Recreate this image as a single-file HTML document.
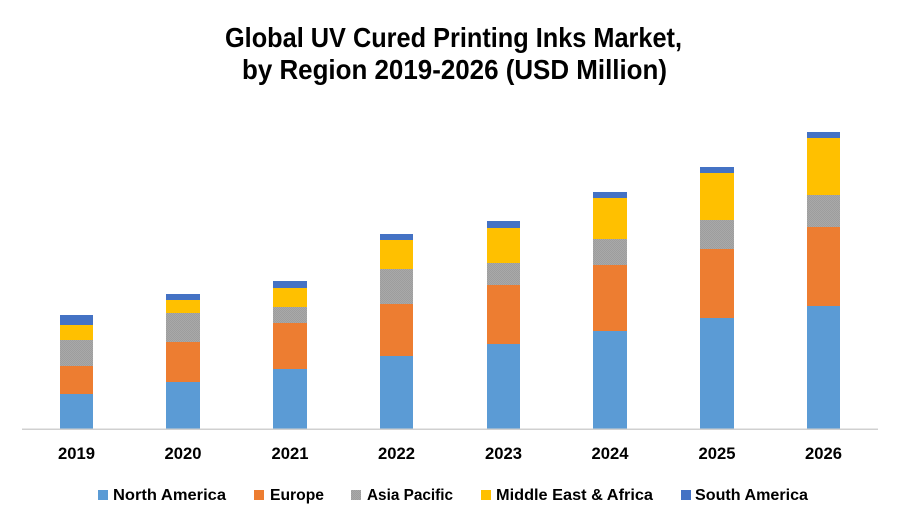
<!DOCTYPE html>
<html>
<head>
<meta charset="utf-8">
<style>
  html, body { margin: 0; padding: 0; background: #ffffff; }
  svg { display: block; }
  text { font-family: "Liberation Sans", Arial, sans-serif; font-weight: bold; fill: #000; }
</style>
</head>
<body>
<svg width="900" height="525" viewBox="0 0 900 525" xmlns="http://www.w3.org/2000/svg">
  <defs>
    <pattern id="gp" width="2" height="2" patternUnits="userSpaceOnUse">
      <rect width="2" height="2" fill="#a9a9a9"/>
      <rect width="1" height="1" fill="#9d9d9d"/>
      <rect x="1" y="1" width="1" height="1" fill="#9d9d9d"/>
    </pattern>
  </defs>
  <rect width="900" height="525" fill="#ffffff"/>

  <!-- Title -->
  <text x="453.5" y="47" font-size="28" text-anchor="middle" textLength="457" lengthAdjust="spacingAndGlyphs">Global UV Cured Printing Inks Market,</text>
  <text x="454.5" y="79" font-size="28" text-anchor="middle" textLength="425" lengthAdjust="spacingAndGlyphs">by Region 2019-2026 (USD Million)</text>

  <!-- Bars: NA, Europe, APAC, MEA, SA -->
  <!-- 2019 -->
  <g>
    <rect x="60" y="394" width="33" height="35" fill="#5b9bd5"/>
    <rect x="60" y="366" width="33" height="28" fill="#ed7d31"/>
    <rect x="60" y="340" width="33" height="26" fill="url(#gp)"/>
    <rect x="60" y="325" width="33" height="15" fill="#ffc000"/>
    <rect x="60" y="315" width="33" height="10" fill="#4472c4"/>
  </g>
  <!-- 2020 -->
  <g>
    <rect x="166" y="382" width="34" height="47" fill="#5b9bd5"/>
    <rect x="166" y="342" width="34" height="40" fill="#ed7d31"/>
    <rect x="166" y="313" width="34" height="29" fill="url(#gp)"/>
    <rect x="166" y="300" width="34" height="13" fill="#ffc000"/>
    <rect x="166" y="294" width="34" height="6" fill="#4472c4"/>
  </g>
  <!-- 2021 -->
  <g>
    <rect x="273" y="369" width="34" height="60" fill="#5b9bd5"/>
    <rect x="273" y="323" width="34" height="46" fill="#ed7d31"/>
    <rect x="273" y="307" width="34" height="16" fill="url(#gp)"/>
    <rect x="273" y="288" width="34" height="19" fill="#ffc000"/>
    <rect x="273" y="281" width="34" height="7" fill="#4472c4"/>
  </g>
  <!-- 2022 -->
  <g>
    <rect x="380" y="356" width="33" height="73" fill="#5b9bd5"/>
    <rect x="380" y="304" width="33" height="52" fill="#ed7d31"/>
    <rect x="380" y="269" width="33" height="35" fill="url(#gp)"/>
    <rect x="380" y="240" width="33" height="29" fill="#ffc000"/>
    <rect x="380" y="234" width="33" height="6" fill="#4472c4"/>
  </g>
  <!-- 2023 -->
  <g>
    <rect x="487" y="344" width="33" height="85" fill="#5b9bd5"/>
    <rect x="487" y="285" width="33" height="59" fill="#ed7d31"/>
    <rect x="487" y="263" width="33" height="22" fill="url(#gp)"/>
    <rect x="487" y="228" width="33" height="35" fill="#ffc000"/>
    <rect x="487" y="221" width="33" height="7" fill="#4472c4"/>
  </g>
  <!-- 2024 -->
  <g>
    <rect x="593" y="331" width="34" height="98" fill="#5b9bd5"/>
    <rect x="593" y="265" width="34" height="66" fill="#ed7d31"/>
    <rect x="593" y="239" width="34" height="26" fill="url(#gp)"/>
    <rect x="593" y="198" width="34" height="41" fill="#ffc000"/>
    <rect x="593" y="192" width="34" height="6" fill="#4472c4"/>
  </g>
  <!-- 2025 -->
  <g>
    <rect x="700" y="318" width="34" height="111" fill="#5b9bd5"/>
    <rect x="700" y="249" width="34" height="69" fill="#ed7d31"/>
    <rect x="700" y="220" width="34" height="29" fill="url(#gp)"/>
    <rect x="700" y="173" width="34" height="47" fill="#ffc000"/>
    <rect x="700" y="167" width="34" height="6" fill="#4472c4"/>
  </g>
  <!-- 2026 -->
  <g>
    <rect x="807" y="306" width="33" height="123" fill="#5b9bd5"/>
    <rect x="807" y="227" width="33" height="79" fill="#ed7d31"/>
    <rect x="807" y="195" width="33" height="32" fill="url(#gp)"/>
    <rect x="807" y="138" width="33" height="57" fill="#ffc000"/>
    <rect x="807" y="132" width="33" height="6" fill="#4472c4"/>
  </g>

  <!-- Axis line -->
  <rect x="22" y="428.5" width="856" height="1.5" fill="#d0d0d0"/>

  <!-- X labels -->
  <g font-size="17">
    <text x="76.5" y="459" text-anchor="middle" textLength="37" lengthAdjust="spacingAndGlyphs">2019</text>
    <text x="183" y="459" text-anchor="middle" textLength="37" lengthAdjust="spacingAndGlyphs">2020</text>
    <text x="290" y="459" text-anchor="middle" textLength="37" lengthAdjust="spacingAndGlyphs">2021</text>
    <text x="396.5" y="459" text-anchor="middle" textLength="37" lengthAdjust="spacingAndGlyphs">2022</text>
    <text x="503.5" y="459" text-anchor="middle" textLength="37" lengthAdjust="spacingAndGlyphs">2023</text>
    <text x="610" y="459" text-anchor="middle" textLength="37" lengthAdjust="spacingAndGlyphs">2024</text>
    <text x="717" y="459" text-anchor="middle" textLength="37" lengthAdjust="spacingAndGlyphs">2025</text>
    <text x="823.5" y="459" text-anchor="middle" textLength="37" lengthAdjust="spacingAndGlyphs">2026</text>
  </g>

  <!-- Legend -->
  <g font-size="16">
    <rect x="98" y="490" width="10" height="10" fill="#5b9bd5"/>
    <text x="113" y="500" textLength="113" lengthAdjust="spacingAndGlyphs">North America</text>
    <rect x="254" y="490" width="10" height="10" fill="#ed7d31"/>
    <text x="270" y="500" textLength="54" lengthAdjust="spacingAndGlyphs">Europe</text>
    <rect x="351" y="490" width="10" height="10" fill="url(#gp)"/>
    <text x="367" y="500" textLength="86" lengthAdjust="spacingAndGlyphs">Asia Pacific</text>
    <rect x="481" y="490" width="10" height="10" fill="#ffc000"/>
    <text x="496" y="500" textLength="157" lengthAdjust="spacingAndGlyphs">Middle East &amp; Africa</text>
    <rect x="681" y="490" width="10" height="10" fill="#4472c4"/>
    <text x="695" y="500" textLength="113" lengthAdjust="spacingAndGlyphs">South America</text>
  </g>
</svg>
</body>
</html>
